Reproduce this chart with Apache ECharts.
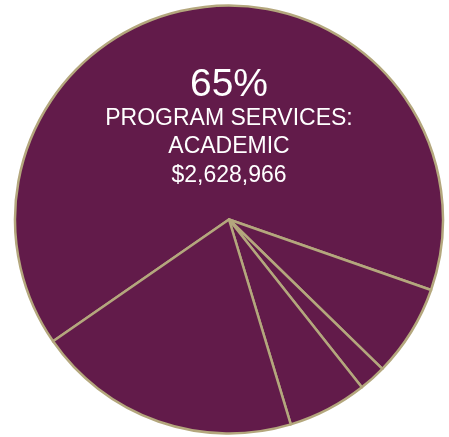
<!DOCTYPE html>
<html>
<head>
<meta charset="utf-8">
<script src="https://cdn.jsdelivr.net/npm/echarts@6/dist/echarts.min.js"></script>
<style>
html,body{margin:0;padding:0;background:#ffffff;}
#chart{width:449px;height:437px;}
</style>
</head>
<body>
<div id="chart"></div>
<script>
var categories = ["Program Services: Academic", "Expense B", "Expense C", "Expense D", "Expense E"];
var values = [2628966, 281000, 83100, 242700, 810000];
var labelPercent = "65%";
var labelName = ["PROGRAM SERVICES:", "ACADEMIC"];
var labelAmount = "$2,628,966";

var chart = echarts.init(document.getElementById('chart'), null, {renderer: 'canvas'});
var data = categories.map(function (c, i) { return {name: c, value: values[i]}; });
chart.setOption({
  animation: false,
  backgroundColor: '#ffffff',
  series: [{
    type: 'pie',
    center: [229, 219.5],
    radius: [0, 214],
    startAngle: 214.7,
    clockwise: true,
    label: {show: false},
    labelLine: {show: false},
    emphasis: {disabled: true},
    itemStyle: {color: '#621b4a', borderColor: '#b4a77d', borderWidth: 2.5},
    data: data
  }],
  graphic: [
    {type: 'text', z: 100, x: 229, y: 66, style: {text: labelPercent, fill: '#ffffff', fontSize: 39, fontFamily: '"Liberation Sans", Arial, sans-serif', align: 'center', verticalAlign: 'top'}},
    {type: 'text', z: 100, x: 229, y: 104, style: {text: labelName.join('\n') + '\n' + labelAmount, fill: '#ffffff', fontSize: 23, fontFamily: '"Liberation Sans", Arial, sans-serif', lineHeight: 28.5, align: 'center', verticalAlign: 'top'}}
  ]
});
</script>
</body>
</html>
